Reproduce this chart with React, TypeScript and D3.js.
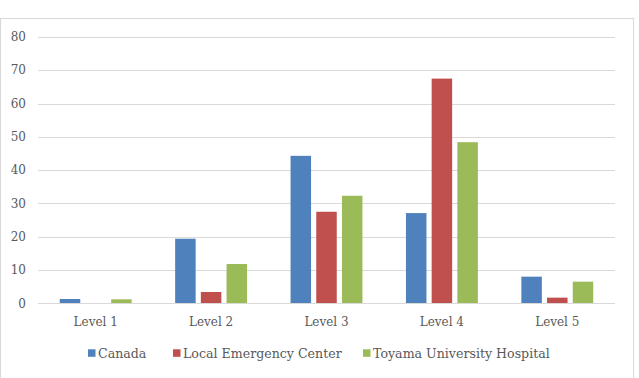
import React from "react";
import * as d3 from "d3";

const categories = ["Level 1", "Level 2", "Level 3", "Level 4", "Level 5"];
const seriesNames = ["Canada", "Local Emergency Center", "Toyama University Hospital"];
const canada = [1.3, 19.4, 44.3, 27.1, 8.0];
const localEmergency = [0, 3.4, 27.5, 67.5, 1.7];
const toyama = [1.2, 11.8, 32.3, 48.4, 6.5];
const yTicks = [0, 10, 20, 30, 40, 50, 60, 70, 80];
const colors = ["#4F81BD", "#C0504D", "#9BBB59"];

export default function App() {
  const W = 639, H = 378;
  const left = 38, right = 615, top = 37, bottom = 303.3;
  const x = d3.scaleBand().domain(categories).range([left, right]).paddingInner(0).paddingOuter(0);
  const y = d3.scaleLinear().domain([0, 80]).range([bottom, top]);
  const series = [canada, localEmergency, toyama];
  const barW = 20.5, gap = 5.2;
  const font = "DejaVu Serif";
  const textColor = "#595959";
  const legendItems = [
    { x: 88, name: seriesNames[0] },
    { x: 173, name: seriesNames[1] },
    { x: 363, name: seriesNames[2] },
  ];
  const ts = { fontFamily: font };
  return (
    <svg width={W} height={H} style={{ position: "absolute", left: 0, top: 0 }}>
      <rect x={0} y={0} width={W} height={H} fill="#fff" />
      <rect x={0.5} y={18.5} width={633} height={370} fill="#fff" stroke="#D9D9D9" />
      {yTicks.map((t) => (
        <g key={t}>
          <line x1={left} x2={right} y1={Math.round(y(t)) + 0.5} y2={Math.round(y(t)) + 0.5} stroke="#D9D9D9" />
          <text x={26} y={y(t)} dy="0.35em" textAnchor="end" style={ts} fontSize={12} fill={textColor}>{t}</text>
        </g>
      ))}
      {categories.map((c, i) => {
        const cx = x(c)! + x.bandwidth() / 2;
        return (
          <g key={c}>
            {series.map((s, j) => {
              const bx = cx + (j - 1) * (barW + gap) - barW / 2;
              return s[i] > 0 ? (
                <rect key={j} x={bx} y={y(s[i])} width={barW} height={y(0) - y(s[i])} fill={colors[j]} />
              ) : null;
            })}
            <text x={cx} y={321.5} dy="0.35em" textAnchor="middle" style={ts} fontSize={12} fill={textColor}>{c}</text>
          </g>
        );
      })}
      <line x1={left} x2={right} y1={303.5} y2={303.5} stroke="#D9D9D9" />
      {legendItems.map((it, j) => (
        <g key={j}>
          <rect x={it.x} y={349.3} width={7.5} height={7.5} fill={colors[j]} />
          <text x={it.x + 10} y={353.5} dy="0.35em" style={ts} fontSize={12.6} fill={textColor}>{it.name}</text>
        </g>
      ))}
    </svg>
  );
}
